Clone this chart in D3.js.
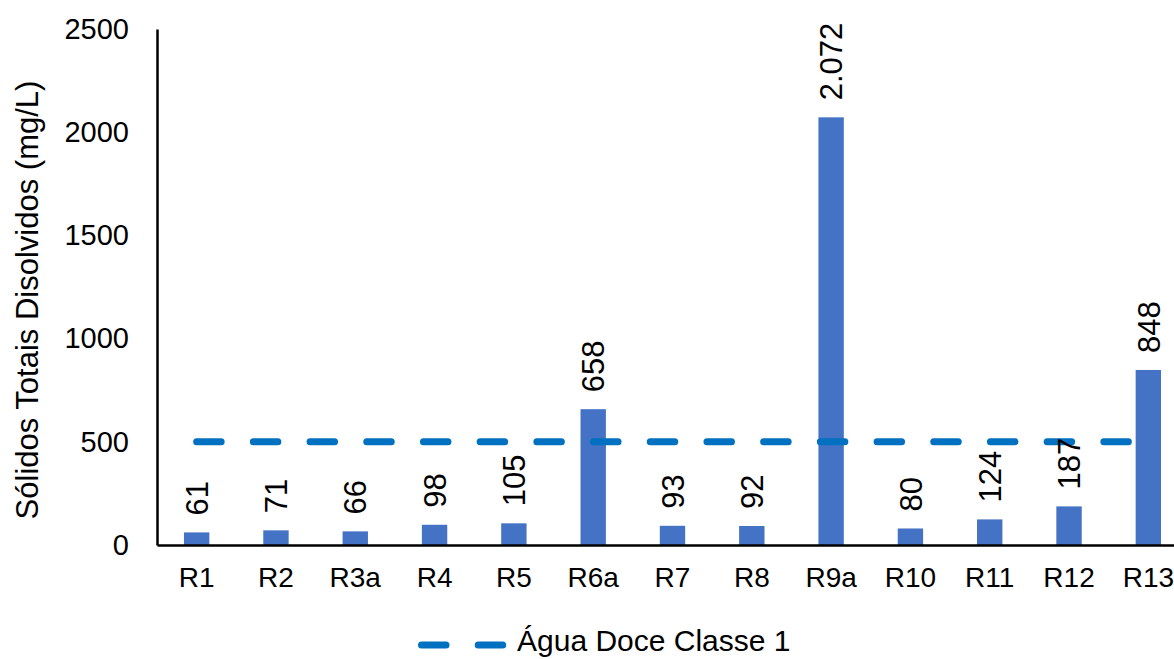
<!DOCTYPE html>
<html>
<head>
<meta charset="utf-8">
<script src="https://cdn.jsdelivr.net/npm/d3@7"></script>
<style>
  html, body { margin: 0; padding: 0; background: #fff; }
  svg { display: block; font-family: "Liberation Sans", Arial, sans-serif; }
</style>
</head>
<body>
<svg id="chart" width="1174" height="659"></svg>
<script>
const categories = ["R1","R2","R3a","R4","R5","R6a","R7","R8","R9a","R10","R11","R12","R13"];
const values = [61, 71, 66, 98, 105, 658, 93, 92, 2072, 80, 124, 187, 848];
const limitValue = 500;
const yTicks = [0, 500, 1000, 1500, 2000, 2500];
const yTitle = "Sólidos Totais Disolvidos (mg/L)";
const legendLabel = "Água Doce Classe 1";

const svg = d3.select("#chart");
const m = { left: 157, right: 1188, top: 29, bottom: 545 };

const x = d3.scaleBand().domain(categories).range([m.left, m.right]).paddingInner(0.68).paddingOuter(0.34);
const y = d3.scaleLinear().domain([0, 2500]).range([m.bottom, m.top]);

const ptBR = d3.formatLocale({ decimal: ",", thousands: ".", grouping: [3], currency: ["R$", ""] });
const fmt = ptBR.format(",d");

// bars
svg.append("g").selectAll("rect").data(categories).join("rect")
  .attr("x", (d) => x(d))
  .attr("width", x.bandwidth())
  .attr("y", (d, i) => y(values[i]))
  .attr("height", (d, i) => y(0) - y(values[i]))
  .attr("fill", "#4472C4");

// limit line
const cx = (d) => x(d) + x.bandwidth() / 2;
svg.append("line")
  .attr("x1", cx(categories[0])).attr("x2", cx(categories[categories.length - 1]))
  .attr("y1", y(limitValue)).attr("y2", y(limitValue))
  .attr("stroke", "#0070C0").attr("stroke-width", 7)
  .attr("stroke-linecap", "round").attr("stroke-dasharray", "24.5 32.2");

// value labels
svg.append("g").selectAll("text").data(categories).join("text")
  .attr("transform", (d, i) => `translate(${cx(d)},${y(values[i]) - 17}) rotate(-90)`)
  .attr("dy", "0.36em")
  .attr("text-anchor", "start")
  .attr("font-size", 31)
  .attr("fill", "#000")
  .text((d, i) => fmt(values[i]));

// axes
const yAxis = d3.axisLeft(y).tickValues(yTicks).tickSize(0).tickPadding(28).tickFormat(d3.format("d"));
const gy = svg.append("g").attr("transform", `translate(${m.left},0)`).call(yAxis);
gy.select(".domain").attr("stroke", "#000").attr("stroke-width", 2.5);
gy.selectAll("text").attr("font-size", 29).attr("font-family", "Liberation Sans, Arial, sans-serif").attr("fill", "#000");

const xAxis = d3.axisBottom(x).tickSize(0).tickPadding(22);
const gx = svg.append("g").attr("transform", `translate(0,${m.bottom})`).call(xAxis);
gx.select(".domain").attr("stroke", "#000").attr("stroke-width", 2.5);
gx.selectAll("text").attr("font-size", 28).attr("font-family", "Liberation Sans, Arial, sans-serif").attr("fill", "#000");

// y title
svg.append("text")
  .attr("transform", `translate(27,300) rotate(-90)`)
  .attr("dy", "0.35em")
  .attr("text-anchor", "middle")
  .attr("font-size", 31)
  .attr("fill", "#000")
  .text(yTitle);

// legend
const lg = svg.append("g").attr("transform", "translate(0,645)");
lg.append("line").attr("x1", 421.5).attr("x2", 503.5).attr("y1", 0).attr("y2", 0)
  .attr("stroke", "#0070C0").attr("stroke-width", 7)
  .attr("stroke-linecap", "round").attr("stroke-dasharray", "24.5 32.2");
lg.append("text").attr("x", 517).attr("y", 6)
  .attr("font-size", 30).attr("fill", "#000").text(legendLabel);
</script>
</body>
</html>
